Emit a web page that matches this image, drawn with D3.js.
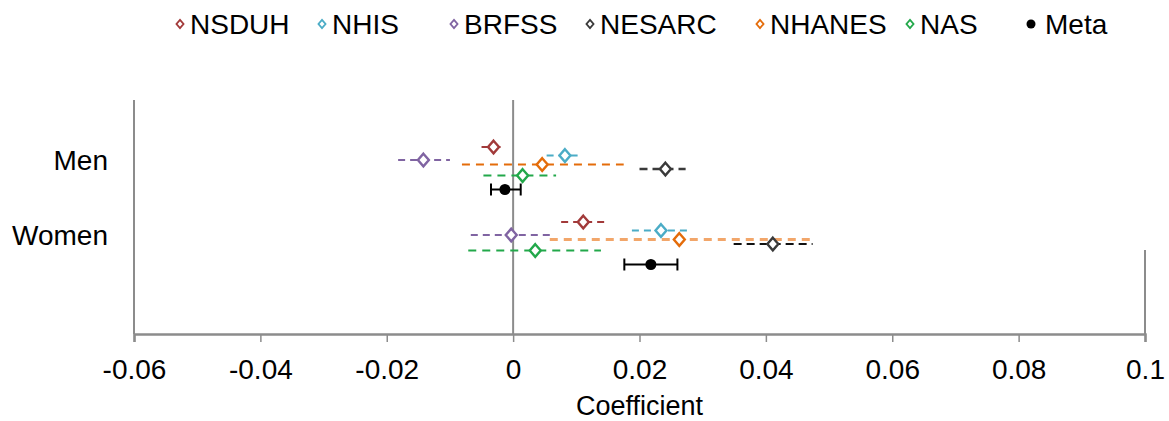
<!DOCTYPE html>
<html>
<head>
<meta charset="utf-8">
<script src="https://cdn.jsdelivr.net/npm/d3@7"></script>
<style>
  body { margin: 0; background: #fff; }
  svg text { font-family: "Liberation Sans", Arial, sans-serif; fill: #000; }
</style>
</head>
<body>
<svg id="chart"></svg>
<script>
// data
const groups = ['Men', 'Women'];
const sources = ['NSDUH', 'NHIS', 'BRFSS', 'NESARC', 'NHANES', 'NAS', 'Meta'];
const menCoef  = [-0.0031, 0.0082, -0.0142, 0.0241, 0.0046, 0.0015, -0.0013];
const menLow   = [-0.0050, 0.0053, -0.0182, 0.0200, -0.0081, -0.0047, -0.0035];
const menHigh  = [-0.0018, 0.0106, -0.0100, 0.0273, 0.0175, 0.0068, 0.0012];
const womenCoef = [0.0111, 0.0234, -0.0003, 0.0411, 0.0263, 0.0035, 0.0218];
const womenLow  = [0.0076, 0.0188, -0.0067, 0.0349, 0.0058, -0.0071, 0.0176];
const womenHigh = [0.0147, 0.0280, 0.0061, 0.0474, 0.0471, 0.0139, 0.0260];
const xTicks = [-0.06, -0.04, -0.02, 0, 0.02, 0.04, 0.06, 0.08, 0.1];

// styling per source
const style = {
  NSDUH:  {color: '#a23a3a', dash: '7,5', width: 2},
  NHIS:   {color: '#4bacc6', dash: '7,5', width: 2},
  BRFSS:  {color: '#8064a2', dash: '7,5', width: 2},
  NESARC: {color: '#3a3a3a', dash: '8,5', width: 2.5},
  NHANES: {color: '#e46c0a', dash: '8,6', width: 2},
  NAS:    {color: '#22a84a', dash: '8,6', width: 2},
  Meta:   {color: '#000000', dash: null, width: 2}
};
// vertical offset of each source within a group (px)
const rowOffset = {NSDUH: -13, NHIS: -4.5, BRFSS: 0, NHANES: 4.5, NESARC: 9, NAS: 15.5, Meta: 29.5};

const W = 1169, H = 421;
const margin = {top: 100, right: 24, bottom: 87, left: 134};

const svg = d3.select('#chart').attr('width', W).attr('height', H);

const x = d3.scaleLinear().domain([-0.06, 0.1]).range([margin.left, W - margin.right]);
const yBottom = H - margin.bottom;
const yGroup = d3.scalePoint().domain(groups).range([160, 235]);

const rows = [];
groups.forEach(g => {
  const c = g === 'Men' ? menCoef : womenCoef;
  const lo = g === 'Men' ? menLow : womenLow;
  const hi = g === 'Men' ? menHigh : womenHigh;
  sources.forEach((s, i) => rows.push({group: g, source: s, coef: c[i], low: lo[i], high: hi[i]}));
});

// frame lines
const axisColor = '#8c8c8c';
svg.append('line')
  .attr('x1', x(-0.06)).attr('x2', x(-0.06))
  .attr('y1', margin.top).attr('y2', yBottom)
  .attr('stroke', axisColor).attr('stroke-width', 2);
svg.append('line')
  .attr('x1', x(0)).attr('x2', x(0))
  .attr('y1', margin.top).attr('y2', yBottom)
  .attr('stroke', axisColor).attr('stroke-width', 2);
svg.append('line')
  .attr('x1', x(0.1)).attr('x2', x(0.1))
  .attr('y1', 250).attr('y2', yBottom)
  .attr('stroke', axisColor).attr('stroke-width', 2);

const xAxis = d3.axisBottom(x)
  .tickValues(xTicks)
  .tickSize(8)
  .tickPadding(17)
  .tickFormat(d => d === 0 ? '0' : String(+d.toFixed(2)));

svg.append('g')
  .attr('transform', `translate(0,${yBottom})`)
  .call(xAxis)
  .call(g => g.select('.domain').attr('stroke', axisColor).attr('stroke-width', 2.5))
  .call(g => g.selectAll('.tick line').attr('stroke', axisColor).attr('stroke-width', 1.5))
  .call(g => g.selectAll('.tick text')
    .attr('fill', '#000')
    .style('font-size', '28px')
    .style('font-family', '"Liberation Sans", Arial, sans-serif'));

svg.append('text')
  .attr('x', (x(-0.06) + x(0.1)) / 2)
  .attr('y', 415)
  .attr('text-anchor', 'middle')
  .style('font-size', '27px')
  .text('Coefficient');

// group labels
svg.selectAll('.group-label')
  .data(groups)
  .join('text')
  .attr('class', 'group-label')
  .attr('x', 108)
  .attr('y', d => yGroup(d) + 10)
  .attr('text-anchor', 'end')
  .style('font-size', '28px')
  .text(d => d);

const diamond = {
  draw(ctx, size) {
    const r = Math.sqrt(size) / 2;
    ctx.moveTo(0, -r * 1.15);
    ctx.lineTo(r, 0);
    ctx.lineTo(0, r * 1.15);
    ctx.lineTo(-r, 0);
    ctx.closePath();
  }
};

const rowY = d => yGroup(d.group) + rowOffset[d.source];
const lineStyle = d => {
  const st = Object.assign({}, style[d.source]);
  if (d.source === 'NHANES' && d.group === 'Women') { st.color = '#f2a66a'; st.width = 3; }
  if (d.source === 'NESARC' && d.group === 'Women') { st.color = '#111'; st.width = 2; }
  return st;
};

const studies = rows.filter(d => d.source !== 'Meta');
const metas = rows.filter(d => d.source === 'Meta');

svg.selectAll('.ci')
  .data(studies)
  .join('line')
  .attr('class', 'ci')
  .attr('x1', d => x(d.low)).attr('x2', d => x(d.high))
  .attr('y1', rowY).attr('y2', rowY)
  .attr('stroke', d => lineStyle(d).color)
  .attr('stroke-width', d => lineStyle(d).width)
  .attr('stroke-dasharray', d => lineStyle(d).dash);

svg.selectAll('.pt')
  .data(studies)
  .join('path')
  .attr('class', 'pt')
  .attr('transform', d => `translate(${x(d.coef)},${rowY(d)})`)
  .attr('d', d3.symbol(diamond, 120))
  .attr('fill', '#fff')
  .attr('stroke', d => style[d.source].color)
  .attr('stroke-width', 2.4);

// meta-analysis estimates
const meta = svg.selectAll('.meta')
  .data(metas)
  .join('g')
  .attr('class', 'meta');
meta.append('line')
  .attr('x1', d => x(d.low)).attr('x2', d => x(d.high))
  .attr('y1', rowY).attr('y2', rowY)
  .attr('stroke', '#000').attr('stroke-width', 2);
meta.selectAll('.cap')
  .data(d => [d.low, d.high].map(v => ({v, y: rowY(d)})))
  .join('line')
  .attr('class', 'cap')
  .attr('x1', c => x(c.v)).attr('x2', c => x(c.v))
  .attr('y1', c => c.y - 6).attr('y2', c => c.y + 6)
  .attr('stroke', '#000').attr('stroke-width', 2);
meta.append('circle')
  .attr('cx', d => x(d.coef)).attr('cy', rowY)
  .attr('r', 5.5)
  .attr('fill', '#000');

// legend
const legendX = [180, 322, 454, 590, 760, 910, 1031];
const legend = svg.selectAll('.legend')
  .data(sources)
  .join('g')
  .attr('class', 'legend')
  .attr('transform', (d, i) => `translate(${legendX[i]},24)`);
legend.filter(d => d !== 'Meta').append('path')
  .attr('d', d3.symbol(diamond, 50))
  .attr('fill', '#fff')
  .attr('stroke', d => style[d].color)
  .attr('stroke-width', 1.8);
legend.filter(d => d === 'Meta').append('circle')
  .attr('r', 4.5).attr('fill', '#000');
legend.append('text')
  .attr('x', d => d === 'Meta' ? 14 : 10)
  .attr('y', 10)
  .style('font-size', '28px')
  .text(d => d);
</script>
</body>
</html>
